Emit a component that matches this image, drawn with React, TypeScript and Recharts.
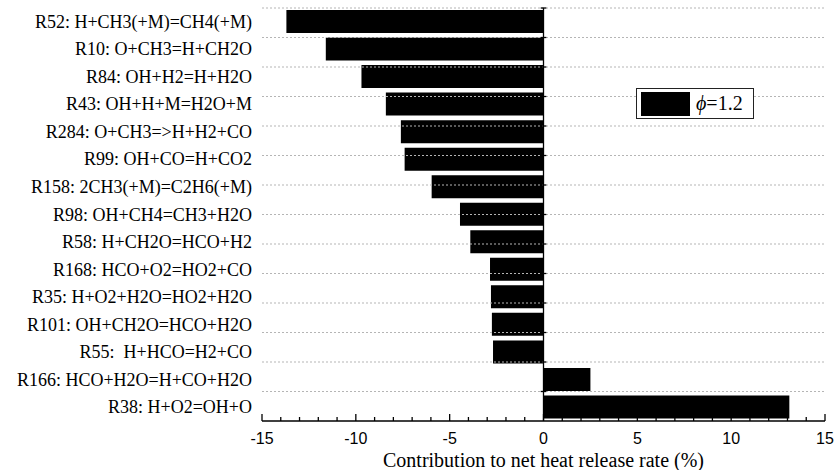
import {
  BarChart,
  Bar,
  XAxis,
  YAxis,
  ReferenceLine,
  Legend,
} from "recharts";

const reactions = [
  "R52: H+CH3(+M)=CH4(+M)",
  "R10: O+CH3=H+CH2O",
  "R84: OH+H2=H+H2O",
  "R43: OH+H+M=H2O+M",
  "R284: O+CH3=>H+H2+CO",
  "R99: OH+CO=H+CO2",
  "R158: 2CH3(+M)=C2H6(+M)",
  "R98: OH+CH4=CH3+H2O",
  "R58: H+CH2O=HCO+H2",
  "R168: HCO+O2=HO2+CO",
  "R35: H+O2+H2O=HO2+H2O",
  "R101: OH+CH2O=HCO+H2O",
  "R55:  H+HCO=H2+CO",
  "R166: HCO+H2O=H+CO+H2O",
  "R38: H+O2=OH+O",
];

const phi12 = [
  -13.7, -11.6, -9.7, -8.4, -7.6, -7.4, -5.96, -4.45, -3.9, -2.85, -2.8, -2.75,
  -2.69, 2.5, 13.1,
];

const xTicks = Array.from({ length: 31 }, (_, i) => i - 15);
// band edges between reactions, on a hidden 0..15 scale
const bandEdges = Array.from({ length: 14 }, (_, i) => i + 1);

const data = reactions.map((name, i) => ({ name, phi12: phi12[i] }));

const SERIF = "'Liberation Serif', 'Times New Roman', serif";
const SANS = "'Liberation Sans', Arial, sans-serif";

// every integer gets a short inward tick, every 5 a long one plus a label
function XTick(props: any) {
  const { x, y, payload } = props;
  const v = payload.value as number;
  const major = v % 5 === 0;
  return (
    <g>
      <line x1={x} x2={x} y1={y} y2={y - (major ? 7 : 4)} stroke="#000" strokeWidth={1.3} />
      {major && (
        <text
          x={x}
          y={y + 23}
          textAnchor="middle"
          style={{ fontFamily: SANS, fontSize: 16 }}
          fill="#000"
        >
          {v}
        </text>
      )}
    </g>
  );
}

function YTick(props: any) {
  const { x, y, payload } = props;
  return (
    <text
      x={x}
      y={y}
      dy={6}
      textAnchor="end"
      style={{ fontFamily: SERIF, fontSize: 18, whiteSpace: "pre" }}
      fill="#000"
    >
      {payload.value}
    </text>
  );
}

function XTitle(props: any) {
  const { viewBox } = props;
  const cx = viewBox.x + viewBox.width / 2;
  return (
    <text
      x={cx}
      y={viewBox.y + viewBox.height - 3}
      textAnchor="middle"
      style={{ fontFamily: SERIF, fontSize: 20 }}
      fill="#000"
    >
      Contribution to net heat release rate (%)
    </text>
  );
}

function PhiLegend() {
  return (
    <div
      style={{
        display: "flex",
        alignItems: "center",
        width: 116,
        height: 29,
        border: "1px solid #222",
        background: "#fff",
        boxSizing: "content-box",
      }}
    >
      <div style={{ width: 49, height: 24, background: "#000", marginLeft: 4 }} />
      <span style={{ fontFamily: SERIF, fontSize: 20, marginLeft: 6, color: "#000" }}>
        <i>ϕ</i>=1.2
      </span>
    </div>
  );
}

export default function App() {
  return (
    <div style={{ position: "absolute", left: 0, top: 0 }}>
      <BarChart
        width={836}
        height={470}
        data={data}
        layout="vertical"
        margin={{ top: 8, right: 11, bottom: 0, left: 0 }}
      >
        <XAxis
          type="number"
          domain={[-15, 15]}
          ticks={xTicks}
          interval={0}
          height={49}
          tickSize={0}
          tickMargin={0}
          tickLine={false}
          tick={<XTick />}
          axisLine={{ stroke: "#000", strokeWidth: 1.3 }}
          label={<XTitle />}
        />
        <YAxis
          type="category"
          dataKey="name"
          width={262}
          interval={0}
          axisLine={false}
          tickLine={false}
          tickSize={0}
          tickMargin={10}
          tick={<YTick />}
        />
        <YAxis
          yAxisId="edges"
          type="number"
          domain={[0, 15]}
          ticks={bandEdges}
          reversed
          hide
        />
        {/* dotted separators between reactions */}
        {bandEdges.map((k) => (
          <ReferenceLine
            key={`g${k}`}
            yAxisId="edges"
            y={k}
            stroke="#b5b5b5"
            strokeDasharray="2 2"
          />
        ))}
        <Bar dataKey="phi12" name="ϕ=1.2" fill="#000" barSize={23} isAnimationActive={false} />
        <ReferenceLine x={0} stroke="#000" strokeWidth={1.3} />
        {bandEdges.map((k) => (
          <ReferenceLine
            key={`t${k}`}
            yAxisId="edges"
            segment={[
              { x: -0.15, y: k },
              { x: 0.15, y: k },
            ]}
            stroke="#000"
            strokeWidth={1.3}
          />
        ))}
        <Legend
          layout="horizontal"
          verticalAlign="middle"
          align="center"
          content={() => <PhiLegend />}
          wrapperStyle={{ position: "absolute", left: 636, top: 88, width: "auto" }}
        />
      </BarChart>
    </div>
  );
}
